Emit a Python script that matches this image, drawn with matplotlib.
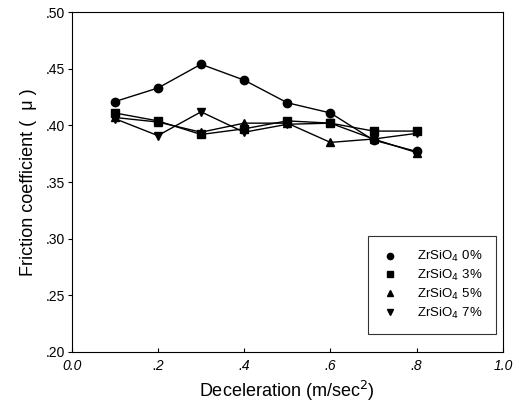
import matplotlib
matplotlib.use("Agg")
import matplotlib.pyplot as plt

plt.rcParams['font.family'] = ['Liberation Sans', 'DejaVu Sans']

decel = [0.1, 0.2, 0.3, 0.4, 0.5, 0.6, 0.7, 0.8]
zr_0 = [0.421, 0.433, 0.454, 0.440, 0.420, 0.411, 0.387, 0.377]
zr_3 = [0.411, 0.404, 0.392, 0.397, 0.404, 0.402, 0.395, 0.395]
zr_5 = [0.407, 0.403, 0.394, 0.402, 0.402, 0.385, 0.388, 0.376]
zr_7 = [0.406, 0.391, 0.412, 0.394, 0.401, 0.402, 0.388, 0.393]

series = [(zr_0, 'o', 'ZrSiO$_4$ 0%'),
          (zr_3, 's', 'ZrSiO$_4$ 3%'),
          (zr_5, '^', 'ZrSiO$_4$ 5%'),
          (zr_7, 'v', 'ZrSiO$_4$ 7%')]

x_ticks = [0.0, 0.2, 0.4, 0.6, 0.8, 1.0]
x_labels = ['0.0', '.2', '.4', '.6', '.8', '1.0']
y_ticks = [0.20, 0.25, 0.30, 0.35, 0.40, 0.45, 0.50]
y_labels = ['.20', '.25', '.30', '.35', '.40', '.45', '.50']

fig = plt.figure(figsize=(5.19, 4.05), dpi=100)
ax = fig.add_axes([0.138, 0.131, 0.831, 0.839])

handles = []
for vals, mk, lab in series:
    ax.plot(decel, vals, color='black', lw=1.0)
    h, = ax.plot(decel, vals, color='black', lw=0, marker=mk, markersize=6,
                 label=lab)
    handles.append(h)

ax.set_xlim(0, 1.0)
ax.set_ylim(0.20, 0.50)
ax.set_xticks(x_ticks)
ax.set_xticklabels(x_labels, fontsize=10, style='italic')
ax.set_yticks(y_ticks)
ax.set_yticklabels(y_labels, fontsize=10)
ax.tick_params(axis='x', direction='in', length=3, pad=5)
ax.tick_params(axis='y', direction='out', length=3, pad=2)

ax.set_xlabel('Deceleration (m/sec$^2$)', fontsize=13, labelpad=4)
ax.set_ylabel('Friction coefficient (  \u03bc )', fontsize=13, labelpad=6)

leg = ax.legend(handles=handles, loc='lower right', fontsize=9.5,
                frameon=True, fancybox=False, edgecolor='black',
                markerscale=0.75, borderaxespad=0,
                handlelength=1.37, handletextpad=1.4, borderpad=1.0,
                labelspacing=0.28, bbox_to_anchor=(0.984, 0.053))
leg.get_frame().set_linewidth(0.8)

fig.savefig('out.png', dpi=100)
